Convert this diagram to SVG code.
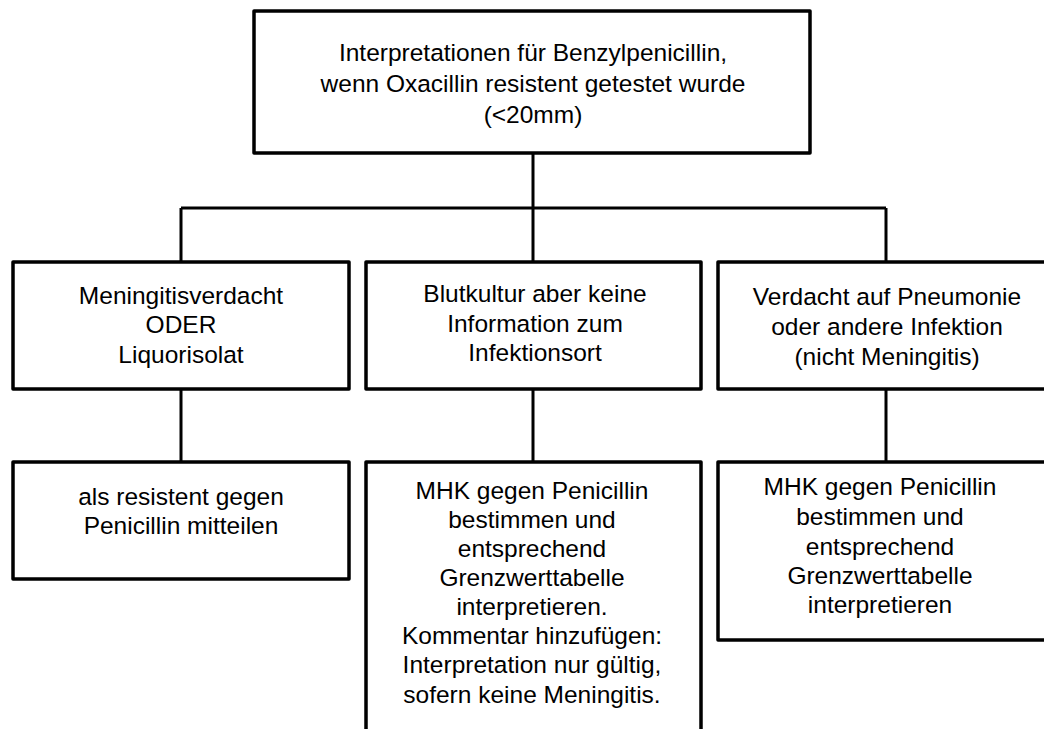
<svg xmlns="http://www.w3.org/2000/svg" width="1044" height="729" viewBox="0 0 1044 729">
<style>
.box{fill:#fff;stroke:#000;stroke-width:3.5;stroke-linejoin:round}
.con{fill:none;stroke:#000;stroke-width:3}
text{font-family:"Liberation Sans",Arial,sans-serif;font-size:24.5px;fill:#000;text-anchor:middle}
</style>
<rect width="1044" height="729" fill="#fff"/>
<g id="connectors">
<path class="con" d="M533 153V208M181 208H886M181 208V262M533 208V262M886 208V262"/>
<path class="con" d="M181 389V461M533 389V461M886 389V461"/>
</g>
<g id="root">
<rect class="box" x="254" y="11" width="556" height="142"/>
<text x="533" y="61">Interpretationen für Benzylpenicillin,</text>
<text x="533" y="92">wenn Oxacillin resistent getestet wurde</text>
<text x="533" y="123">(&lt;20mm)</text>
</g>
<g id="meningitis">
<rect class="box" x="13" y="262" width="336" height="127"/>
<text x="181" y="304">Meningitisverdacht</text>
<text x="181" y="333">ODER</text>
<text x="181" y="363">Liquorisolat</text>
</g>
<g id="blutkultur">
<rect class="box" x="366" y="262" width="335" height="127"/>
<text x="535" y="302">Blutkultur aber keine</text>
<text x="535" y="332">Information zum</text>
<text x="535" y="361">Infektionsort</text>
</g>
<g id="pneumonie">
<rect class="box" x="718" y="262" width="336" height="127"/>
<text x="887" y="305">Verdacht auf Pneumonie</text>
<text x="887" y="335">oder andere Infektion</text>
<text x="887" y="365">(nicht Meningitis)</text>
</g>
<g id="resistent">
<rect class="box" x="13" y="462" width="336" height="117"/>
<text x="181" y="505">als resistent gegen</text>
<text x="181" y="534">Penicillin mitteilen</text>
</g>
<g id="mhk-blut">
<rect class="box" x="366" y="462" width="335" height="290"/>
<text x="532" y="499">MHK gegen Penicillin</text>
<text x="532" y="528">bestimmen und</text>
<text x="532" y="557">entsprechend</text>
<text x="532" y="586">Grenzwerttabelle</text>
<text x="532" y="615">interpretieren.</text>
<text x="532" y="644">Kommentar hinzufügen:</text>
<text x="532" y="673">Interpretation nur gültig,</text>
<text x="532" y="703">sofern keine Meningitis.</text>
</g>
<g id="mhk-pneumonie">
<rect class="box" x="718" y="462" width="336" height="178"/>
<text x="880" y="495">MHK gegen Penicillin</text>
<text x="880" y="525">bestimmen und</text>
<text x="880" y="555">entsprechend</text>
<text x="880" y="584">Grenzwerttabelle</text>
<text x="880" y="613">interpretieren</text>
</g>
</svg>
